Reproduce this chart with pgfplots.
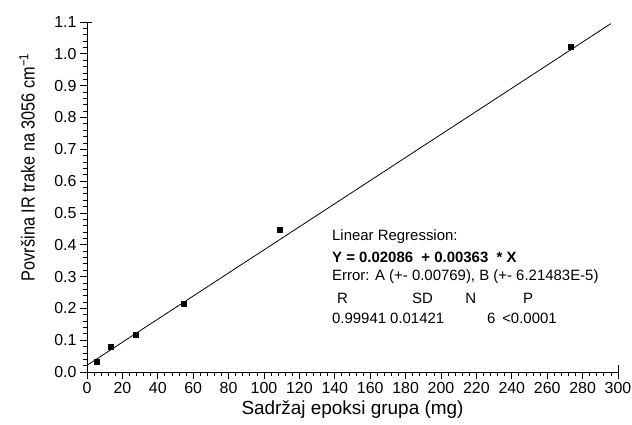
\documentclass[border=0pt]{standalone}
\usepackage{fontspec}
\setmainfont{Liberation Sans}
\usepackage{pgfplots}
\pgfplotsset{compat=1.18}
\begin{document}
\begin{tikzpicture}
\begin{axis}[name=a, scale only axis, width=531bp, height=350bp,
  xmin=0, xmax=300, ymin=0, ymax=1.1,
  axis x line*=bottom, axis y line*=left,
  axis line style={line width=0.8bp},
  xtick={0,20,...,300},
  ytick={0,0.1,0.2,0.3,0.4,0.5,0.6,0.7,0.8,0.9,1.0,1.1},
  minor x tick num=4, minor y tick num=4,
  tick align=outside, major tick length=7bp, minor tick length=4bp,
  tick style={black, line width=0.8bp},
  ticklabel style={font=\fontsize{16}{18}\selectfont},
  /pgf/number format/assume math mode=true,
  yticklabel style={/pgf/number format/.cd, fixed, fixed zerofill, precision=1},
  xlabel={Sadržaj epoksi grupa (mg)},
  ylabel={\scalebox{0.86}[1]{Površina IR trake na 3056 cm\textsuperscript{−1}}},
  label style={font=\fontsize{19}{21}\selectfont},
  ylabel style={at={(axis description cs:-0.113,0.585)}, anchor=center},
  xlabel style={at={(axis description cs:0.5,-0.108)}, anchor=center},
  clip=false]
\addplot[black, line width=0.8bp, no marks] coordinates {(0,0.021) (296,1.095)};
\addplot[only marks, mark=square*, mark size=2.5bp, black] coordinates {
  (5.5,0.032) (13.6,0.078) (27.5,0.116) (54.4,0.216) (109,0.446) (273.3,1.022)};
\begin{scope}[every node/.style={anchor=west, inner sep=0pt, font=\fontsize{15}{17}\selectfont}]
\node at (axis cs:138.4,0.4243) {Linear Regression:};
\node at (axis cs:138.4,0.3614) {\bfseries Y = 0.02086 \ + 0.00363 \ * X};
\node at (axis cs:138.4,0.2986) {Error: A (+- 0.00769), B (+- 6.21483E-5)};
\node at (axis cs:141.2,0.2326) {R};
\node at (axis cs:183.6,0.2326) {SD};
\node at (axis cs:213.6,0.2326) {N};
\node at (axis cs:246.3,0.2326) {P};
\node at (axis cs:138.4,0.1697) {0.99941};
\node at (axis cs:171.2,0.1697) {0.01421};
\node at (axis cs:226.0,0.1697) {6};
\node at (axis cs:234.5,0.1697) {<0.0001};
\end{scope}
\draw[line width=0.8bp] (axis cs:300,0) -- ++(0,7bp);
\draw[line width=0.8bp] (axis cs:0,1.1) -- ++(5bp,0);
\end{axis}
\pgfresetboundingbox
\path ([shift={(-87bp,-53bp)}]a.south west) rectangle ([shift={(545bp,372bp)}]a.south west);
\end{tikzpicture}
\end{document}
